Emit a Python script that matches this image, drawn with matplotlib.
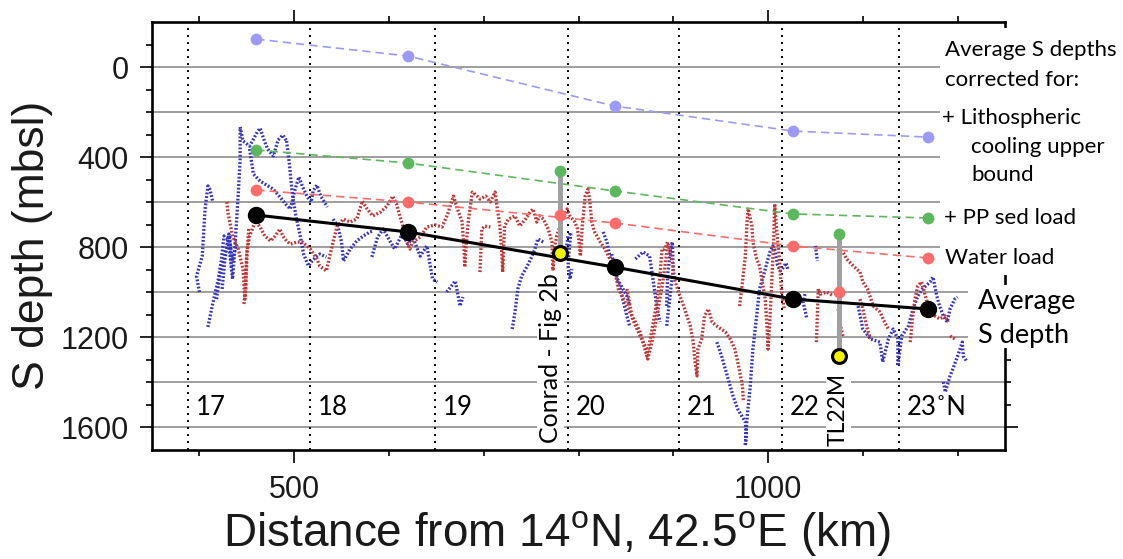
import numpy as np
import matplotlib
matplotlib.use("Agg")
import matplotlib.pyplot as plt
from matplotlib.patches import Rectangle

plt.rcParams["font.family"] = ["Liberation Sans", "DejaVu Sans"]
plt.rcParams["mathtext.fontset"] = "custom"
plt.rcParams["mathtext.rm"] = "Liberation Sans"

W, H = 1123, 559

# ---- average S depth and corrected depths (distance km, depth m) ----
avg_km = [460, 620, 838, 1026, 1169]
avg_depth = [657, 732, 888, 1030, 1074]
lith_depth = [-124, -49, 173, 284, 311]
sed_depth = [368, 426, 550, 652, 670]
water_depth = [546, 599, 692, 794, 848]

# ---- individual sites: S depth, water-load and PP-sediment corrections ----
site_names = ["Conrad - Fig 2b", "TL22M"]
site_km = [780, 1075]
site_s_depth = [826, 1283]
site_water = [657, 999]
site_sed = [462, 741]

# ---- latitude markers ----
lat_km = [388, 517, 649, 789, 906, 1015, 1138]
lat_labels = ["17", "18", "19", "20", "21", "22", "23\u02daN"]

# ---- picked S reflector tracks (km, m) ----
blue_tracks = [
    [(400, 999), (397, 928), (403, 839), (406, 630), (409, 528), (411, 542), (414, 595)],
    [(409, 1154), (414, 1052), (420, 941), (423, 861), (426, 750), (430, 763), (433, 861),
     (435, 941), (437, 830), (439, 697), (441, 564), (443, 408), (443, 266)],
    [(418, 1030), (422, 919), (428, 808), (432, 755), (434, 897)],
    [(424, 985), (427, 852), (431, 741), (435, 861), (439, 786)],
    [(443, 266), (446, 328), (453, 351), (461, 289), (464, 271), (469, 333), (472, 364),
     (478, 395), (483, 324), (488, 302), (492, 328)],
    [(453, 364), (457, 475), (464, 506), (471, 524), (478, 542), (485, 577), (491, 608),
     (496, 630), (501, 542), (505, 488), (509, 533), (514, 577), (518, 599), (520, 550),
     (524, 524), (528, 573), (535, 621)],
    [(492, 328), (495, 431), (498, 564), (502, 666), (506, 741), (510, 830), (515, 883),
     (519, 861), (523, 843), (527, 830), (534, 843)],
    [(541, 675), (546, 706), (550, 777), (552, 861), (559, 808), (566, 772), (573, 750),
     (580, 732), (583, 728)],
    [(582, 843), (588, 755), (594, 719), (601, 772), (606, 808), (614, 741), (620, 786),
     (625, 755), (633, 839), (640, 794), (646, 941), (651, 954)],
    [(661, 999), (670, 950), (673, 1016), (675, 1061), (678, 1021)],
    [(730, 1163), (733, 1087), (736, 985), (740, 928), (746, 883), (751, 839), (754, 808),
     (757, 763), (763, 777)],
    [(787, 808), (789, 750), (792, 735), (790, 820), (789, 883), (791, 941), (793, 897)],
    [(826, 732), (830, 777), (833, 839), (838, 910), (844, 985), (851, 1105), (854, 1150)],
    [(835, 830), (841, 941), (851, 1016), (854, 1061)],
    [(860, 852), (868, 821), (875, 839), (879, 954), (883, 1074), (886, 1132)],
    [(893, 1061), (894, 928), (897, 808), (899, 777), (900, 897), (897, 999), (893, 1150)],
    [(946, 1221), (951, 1283), (957, 1371), (963, 1460), (968, 1518), (976, 1576), (977, 1629),
     (976, 1682), (978, 1549), (981, 1429), (984, 1252), (988, 1105), (991, 985), (995, 928),
     (999, 866), (1002, 821), (1005, 794), (1007, 808)],
    [(1007, 808), (1010, 880), (1013, 905), (1016, 890), (1019, 870), (1021, 900)],
    [(1039, 1008), (1037, 1043), (1041, 1118)],
    [(1050, 794), (1052, 861)],
    [(1095, 1061), (1100, 1163), (1108, 1207), (1118, 1221), (1121, 1309), (1127, 1207),
     (1132, 1163), (1137, 1207), (1137, 1327), (1141, 1194), (1148, 1150), (1153, 1074),
     (1158, 1016), (1163, 985), (1171, 954), (1174, 932), (1178, 1016), (1181, 1061),
     (1185, 1105), (1189, 1132), (1192, 1074), (1197, 1030), (1200, 1021)],
    [(1185, 1398), (1187, 1443), (1192, 1371), (1195, 1340), (1200, 1283), (1205, 1221),
     (1206, 1283), (1210, 1309)],
]

red_tracks = [
    [(429, 599), (430, 644), (435, 750), (441, 808), (446, 897), (448, 1030), (450, 821),
     (453, 750), (459, 684), (464, 710), (469, 750), (475, 772), (480, 750), (485, 719),
     (488, 750), (492, 772), (496, 786), (503, 777), (509, 777), (517, 808), (524, 852),
     (527, 883), (534, 905), (538, 830), (545, 710), (552, 675), (559, 688), (566, 675),
     (572, 595), (577, 630), (583, 661), (591, 644), (598, 617), (604, 573), (608, 608),
     (614, 697), (619, 777), (622, 808), (625, 777), (633, 755), (640, 710), (649, 701),
     (656, 710), (662, 652), (668, 573), (673, 639), (677, 684), (679, 786), (680, 888),
     (682, 763), (684, 675), (688, 555), (692, 568), (696, 586), (702, 573), (707, 599),
     (712, 555), (714, 617), (717, 706), (719, 821), (720, 910), (722, 706), (726, 675),
     (733, 661), (738, 706), (744, 675), (749, 644), (752, 630), (756, 688), (759, 661),
     (763, 675), (768, 719), (772, 777), (773, 910), (775, 794), (777, 750), (783, 675),
     (788, 630), (791, 661), (796, 688), (799, 719), (802, 839), (804, 706), (807, 573),
     (810, 542), (812, 599), (814, 688), (817, 732), (823, 777), (828, 808), (833, 852),
     (838, 897), (842, 985), (846, 1016), (849, 1043), (854, 1087), (860, 1132), (865, 1176),
     (868, 1221), (872, 1283), (875, 1221), (879, 1132), (883, 1030), (886, 928), (888, 808),
     (891, 808), (894, 777), (899, 866), (902, 954), (907, 1016), (912, 1074), (918, 1150),
     (921, 1221), (923, 1309), (925, 1371), (926, 1252), (930, 1207), (933, 1105),
     (937, 1074), (941, 1132), (946, 1150), (955, 1176), (960, 1207), (965, 1252),
     (968, 1309), (973, 1416), (974, 1487)],
    [(452, 719), (450, 852), (449, 985), (447, 1052)],
    [(851, 985), (857, 1118), (865, 1194), (872, 1252), (873, 1296), (879, 1194), (884, 1074),
     (889, 954), (894, 794)],
    [(970, 1061), (973, 954), (976, 839), (978, 675), (979, 630), (983, 706), (984, 777),
     (988, 852), (991, 883), (997, 1030), (999, 1163), (1000, 1252), (1002, 1118),
     (1004, 941), (1006, 763), (1007, 608), (1009, 719), (1012, 852), (1014, 985),
     (1017, 1074)],
    [(1051, 1221), (1052, 1100), (1053, 985), (1055, 1008), (1062, 999), (1069, 1016)],
    [(1073, 808), (1079, 821), (1083, 852), (1090, 883), (1097, 910), (1100, 954), (1105, 985),
     (1111, 1061), (1118, 1087), (1123, 1132), (1127, 1163)],
    [(1097, 1030), (1100, 1074), (1104, 1150), (1108, 1207)],
    [(1074, 1074), (1076, 1141), (1079, 1194)],
    [(1150, 1221), (1152, 1132), (1155, 1030), (1158, 972), (1162, 954), (1166, 1016),
     (1171, 1087), (1176, 1105), (1181, 1118), (1187, 1105), (1190, 1132)],
    [(1192, 1194), (1197, 1207)],
    [(696, 910), (698, 719), (701, 706), (707, 710)],
]

TRACK_BLUE = "#3434c4"
TRACK_RED = "#c43434"
LITH = "#9b9bf5"
SED = "#5cb85c"
WATER = "#ff6b6b"
YELLOW = "#f2f200"
BAR = "#a0a0a0"
LAB_FONT = ["Lato", "DejaVu Sans"]


def fx(px):
    return px / W


def fy(py):
    return 1 - py / H


fig = plt.figure(figsize=(W / 100, H / 100), dpi=100)
ax = fig.add_axes([fx(152), fy(450), (1005 - 152) / W, (450 - 22) / H])
ax.set_xlim(350, 1250)
ax.set_ylim(1700, -200)

# horizontal grid every 200 m
for d in np.arange(0, 1700, 200):
    ax.axhline(d, color="#969696", lw=1.3, zorder=0.5)

# latitude markers
for x, lab in zip(lat_km, lat_labels):
    ax.axvline(x, color="black", lw=1.4, ls=(0, (1, 2.6)), zorder=1)
    ax.text(x + 8, 1513, lab, fontsize=18.5, family=LAB_FONT, ha="left", va="center", zorder=1.2)

# picked reflector tracks
track_style = dict(lw=2.4, ls=(0, (0.55, 0.55)), zorder=2)
for tr in blue_tracks:
    k, d = zip(*tr)
    ax.plot(k, d, color=TRACK_BLUE, **track_style)
for tr in red_tracks:
    k, d = zip(*tr)
    ax.plot(k, d, color=TRACK_RED, **track_style)

# corrected depth curves
dash = (0, (5, 3))
ax.plot(avg_km, lith_depth, color=LITH, lw=1.2, ls=dash, marker="o", ms=8.5, mew=0, zorder=4)
ax.plot(avg_km, sed_depth, color=SED, lw=1.2, ls=dash, marker="o", ms=8.5, mew=0, zorder=4)
ax.plot(avg_km, water_depth, color=WATER, lw=1.2, ls=dash, marker="o", ms=8.5, mew=0, zorder=4)
ax.plot(avg_km, avg_depth, color="black", lw=2.2, marker="o", ms=11.5, zorder=5)

# individual sites
for name, k, s, w, sd in zip(site_names, site_km, site_s_depth, site_water, site_sed):
    ax.plot([k, k], [sd, s], color=BAR, lw=3.6, solid_capstyle="butt", zorder=4)
    ax.plot([k], [sd], "o", color=SED, ms=8.5, mew=0, zorder=5)
    ax.plot([k], [w], "o", color=WATER, ms=8.5, mew=0, zorder=5)
    ax.plot([k], [s], "o", color=YELLOW, mec="black", mew=2.2, ms=10, zorder=6)

ax.text(770, 1290, site_names[0], rotation=90, fontsize=18, family=LAB_FONT,
        ha="center", va="center", zorder=3,
        bbox=dict(facecolor="white", edgecolor="none", pad=1.5))
ax.text(1074, 1518, site_names[1], rotation=90, fontsize=16.5, family=LAB_FONT,
        ha="center", va="center", zorder=3,
        bbox=dict(facecolor="white", edgecolor="none", pad=1.5))

# axes, ticks
for sp in ax.spines.values():
    sp.set_linewidth(1.9)
ax.set_xticks([500, 1000])
ax.set_xticks(np.arange(400, 1300, 100), minor=True)
ax.set_yticks(np.arange(0, 1700, 400))
ax.set_yticks(np.arange(-100, 1700, 100), minor=True)
ax.tick_params(which="major", direction="out", length=9, width=1.2,
               top=True, right=True, labelsize=22, pad=8)
ax.tick_params(which="minor", direction="out", length=4.5, width=1.2,
               top=True, right=True)
ax.tick_params(axis="x", which="major", pad=9)
for t in ax.get_xticklabels() + ax.get_yticklabels():
    t.set_color("#1a1a1a")

fig.text(fx(557), fy(533), r"Distance from 14$^{\mathregular{o}}$N, 42.5$^{\mathregular{o}}$E (km)",
         fontsize=33, ha="center", va="center", color="#1a1a1a")
fig.text(fx(33), fy(245), "S depth (mbsl)", rotation=90, fontsize=32,
         ha="center", va="center", color="#1a1a1a")

# key on the right
fig.add_artist(Rectangle((fx(940), fy(275)), (W - 940) / W, (275 - 28) / H,
                         transform=fig.transFigure, facecolor="white", edgecolor="none", zorder=1))
fig.add_artist(Rectangle((fx(968), fy(348)), (1095 - 968) / W, (348 - 285) / H,
                         transform=fig.transFigure, facecolor="white", edgecolor="none", zorder=1))

key_lines = [
    ("Average S depths", 945, 50),
    ("corrected for:", 945, 80),
    ("+ Lithospheric", 942, 118),
    ("cooling upper", 971, 147),
    ("bound", 971, 175),
    ("+ PP sed load", 944, 218),
    ("Water load", 945, 258),
]
for txt, x, y in key_lines:
    fig.text(fx(x), fy(y), txt, fontsize=16, family=LAB_FONT, ha="left", va="center", zorder=3)
fig.text(fx(978), fy(302), "Average", fontsize=19.5, family=LAB_FONT, ha="left", va="center", zorder=3)
fig.text(fx(978), fy(335), "S depth", fontsize=19.5, family=LAB_FONT, ha="left", va="center", zorder=3)

fig.savefig("out.png", dpi=100, facecolor="white")
